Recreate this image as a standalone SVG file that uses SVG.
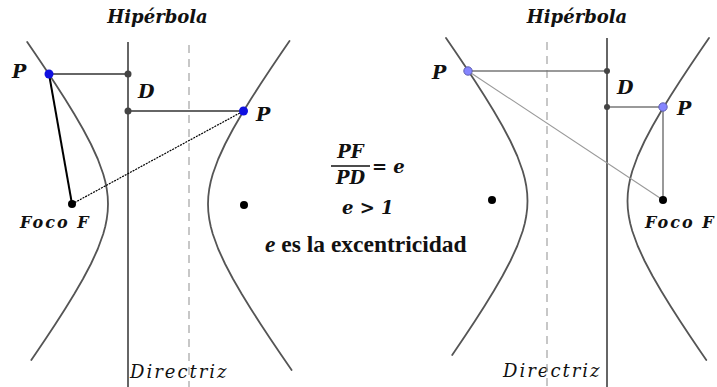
<svg xmlns="http://www.w3.org/2000/svg" width="717" height="387" viewBox="0 0 717 387">
<style>
.curve{fill:none;stroke:#555;stroke-width:1.8;stroke-linejoin:round;stroke-linecap:round}
.dir{stroke:#666;stroke-width:2}
.dash{stroke:#aaa;stroke-width:1.3;stroke-dasharray:8 6}
.seg{stroke:#666;stroke-width:2}
.segR{stroke:#777;stroke-width:1.5}
.thin{stroke:#999;stroke-width:1.1}
text{font-family:"DejaVu Serif","Liberation Serif",serif;fill:#111}
.title{font-style:italic;font-weight:bold;font-size:18px}
.lbl{font-style:italic;font-weight:bold;font-size:19px}
.lblm{font-style:italic;font-weight:bold;font-size:16px;letter-spacing:2px}
.dirl{font-style:italic;font-size:18px;letter-spacing:2px}
.math{font-style:italic;font-weight:bold;font-size:18px}
.bold{font-family:"Liberation Serif","DejaVu Serif",serif;font-weight:bold;font-size:23.5px}
.gdot{fill:#444}
.fdot{fill:#000}
</style>
<g id="left-diagram">
<g id="left-title"><text class="title" x="157.5" y="23" text-anchor="middle">Hipérbola</text></g>
<g id="left-branch-l"><polyline class="curve" points="27.2,42 35.4,54 45.5,69 55.4,84 65.05,99 74.26,114 82.95,129 90.88,144 97.77,159 103.22,174 105.26,181.5 106.76,189 107.69,196.5 108,204 107.69,211.5 106.76,219 105.26,226.5 103.22,234 97.77,249 90.88,264 82.95,279 74.26,294 65.05,309 55.44,324 45.53,339 35.4,354 31.3,360"/></g>
<g id="left-branch-r"><polyline class="curve" points="289.5,41 280.6,54 270.47,69 260.56,84 250.95,99 241.74,114 233.05,129 225.12,144 218.23,159 212.78,174 210.74,181.5 209.24,189 208.31,196.5 208,204 208.31,211.5 209.24,219 210.74,226.5 212.78,234 218.23,249 225.12,264 233.05,279 241.74,294 250.95,309 260.56,324 270.47,339 280.6,354 291.6,370"/></g>
<g id="left-directrix"><line class="dir" x1="128" y1="42" x2="128" y2="387"/><text class="dirl" x="130" y="378">Directriz</text></g>
<g id="left-dashed"><line class="dash" x1="189" y1="45" x2="189" y2="387"/></g>
<g id="left-connectors">
<line class="seg" x1="49" y1="74" x2="128" y2="74"/>
<line class="seg" x1="128" y1="111" x2="243.5" y2="111"/>
<line stroke="#000" stroke-width="2" x1="49" y1="74" x2="72" y2="204"/>
<line stroke="#000" stroke-width="1.2" stroke-dasharray="2 1" x1="72" y1="204" x2="243.5" y2="111"/>
</g>
<g id="left-D"><circle class="gdot" cx="128" cy="74" r="3.5"/><circle class="gdot" cx="128" cy="111" r="3.5"/><text class="lbl" x="138" y="98">D</text></g>
<g id="left-P1"><circle cx="49" cy="74" r="4.5" fill="#1010e0"/><text class="lbl" x="12" y="78">P</text></g>
<g id="left-P2"><circle cx="243.5" cy="111" r="4.5" fill="#1010e0"/><text class="lbl" x="256" y="121">P</text></g>
<g id="left-focus"><circle class="fdot" cx="72" cy="204" r="4"/><text class="lblm" x="20" y="228">Foco F</text></g>
<g id="left-focus2"><circle class="fdot" cx="244" cy="205" r="4"/></g>
</g>
<g id="center-text">
<text class="math" x="350.5" y="158" text-anchor="middle">PF</text>
<line stroke="#111" stroke-width="1.3" x1="331" y1="166" x2="370" y2="166"/>
<text class="math" x="350.5" y="184" text-anchor="middle">PD</text>
<text class="math" x="372" y="173">= e</text>
<text class="math" x="342" y="214">e &gt; 1</text>
<text class="bold" x="265" y="252"><tspan font-style="italic">e</tspan> es la excentricidad</text>
</g>
<g id="right-diagram">
<g id="right-title"><text class="title" x="577" y="23" text-anchor="middle">Hipérbola</text></g>
<g id="right-branch-l"><polyline class="curve" points="446,38 454.9,51 465.03,66 474.94,81 484.55,96 493.76,111 502.45,126 510.38,141 517.27,156 522.72,171 524.76,178.5 526.26,186 527.19,193.5 527.5,201 527.19,208.5 526.26,216 524.76,223.5 522.72,231 517.27,246 510.38,261 502.45,276 493.76,291 484.55,306 474.94,321 465.03,336 454.9,351 452.2,355"/></g>
<g id="right-branch-r"><polyline class="curve" points="709,38 700.1,51 689.97,66 680.06,81 670.45,96 661.24,111 652.55,126 644.62,141 637.73,156 632.28,171 630.24,178.5 628.74,186 627.81,193.5 627.5,201 627.81,208.5 628.74,216 630.24,223.5 632.28,231 637.73,246 644.62,261 652.55,276 661.24,291 670.45,306 680.06,321 689.97,336 700.1,351 706.3,360"/></g>
<g id="right-directrix"><line class="dir" x1="607" y1="38" x2="607" y2="387"/><text class="dirl" x="503" y="377">Directriz</text></g>
<g id="right-dashed"><line class="dash" x1="547" y1="42" x2="547" y2="387"/></g>
<g id="right-connectors">
<line class="segR" x1="468" y1="71" x2="607" y2="71"/>
<line class="segR" x1="607" y1="107" x2="663" y2="107"/>
<line class="segR" x1="663" y1="107" x2="663" y2="200"/>
<line class="thin" x1="468" y1="71" x2="663" y2="200"/>
</g>
<g id="right-D"><circle class="gdot" cx="607" cy="71" r="3"/><circle class="gdot" cx="607" cy="107" r="3"/><text class="lbl" x="617" y="94">D</text></g>
<g id="right-P1"><circle cx="468" cy="71" r="4.2" fill="#8585ff" stroke="#6060b0" stroke-width="1"/><text class="lbl" x="432" y="79">P</text></g>
<g id="right-P2"><circle cx="663" cy="107" r="4.2" fill="#8585ff" stroke="#6060b0" stroke-width="1"/><text class="lbl" x="677" y="115">P</text></g>
<g id="right-focus"><circle class="fdot" cx="663" cy="200" r="4"/><text class="lblm" x="645" y="228">Foco F</text></g>
<g id="right-focus2"><circle class="fdot" cx="492" cy="200" r="4"/></g>
</g>
</svg>
